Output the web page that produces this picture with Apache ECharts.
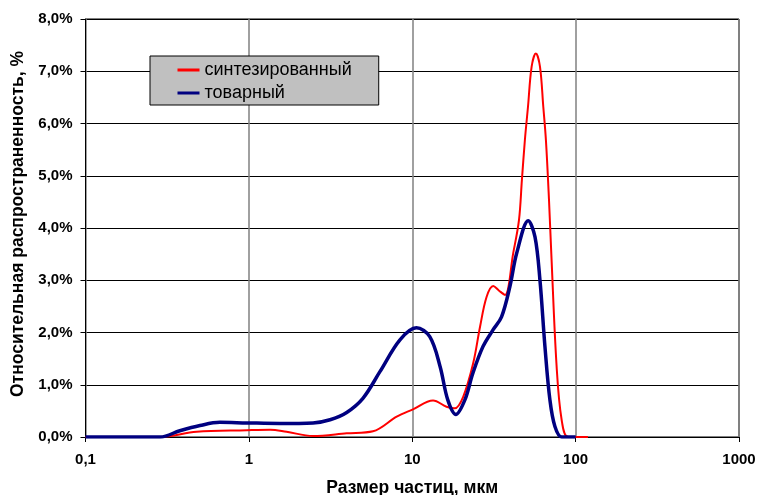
<!DOCTYPE html>
<html>
<head>
<meta charset="utf-8">
<script src="https://cdn.jsdelivr.net/npm/echarts@6/dist/echarts.min.js"></script>
<style>
html,body{margin:0;padding:0;background:#fff;}
#chart{width:757px;height:495px;}
</style>
</head>
<body>
<div id="chart"></div>
<script>
const seriesNames = ['синтезированный', 'товарный'];
const xTicks = [0.1, 1, 10, 100, 1000];

// синтезированный (red): particle size, µm / relative frequency, %
const redSize = [0.1, 0.286, 0.479, 0.97, 1.35, 1.70, 2.47, 3.97, 5.75, 8.03, 10.1, 13.4, 16.2, 18.2, 20.5, 23.6, 26.0, 28.5, 31.3, 34.0, 37.0, 41.5, 45.0, 46.9, 48.9, 51.1, 53.8, 57.1, 60.5, 63.4, 65.8, 68.7, 71.0, 76.5, 82.1, 90.1, 119];
const redVal  = [0,   0,     0.10,  0.13, 0.14, 0.10, 0.02, 0.07, 0.11, 0.39, 0.53, 0.70, 0.58, 0.55, 0.77, 1.41, 2.11, 2.68, 2.89, 2.80, 2.72, 3.52, 4.15, 4.92, 5.68, 6.32, 7.09, 7.34, 7.09, 6.32, 5.68, 4.54, 3.50, 1.35, 0.33, 0,    0];

// товарный (blue)
const blueSize = [0.1, 0.286, 0.378, 0.502, 0.665, 0.97, 1.55, 2.47, 3.14, 3.97, 4.99, 6.34, 8.41, 10.6, 12.8, 14.8, 16.5, 18.5, 21.0, 23.5, 27.1, 31.2, 35.2, 39.6, 43.6, 51.3, 56.4, 60.5, 64.9, 69.6, 74.7, 82.1, 100];
const blueVal  = [0,   0,     0.12,  0.22,  0.28,  0.27, 0.26, 0.27, 0.33, 0.47, 0.74, 1.25, 1.86, 2.09, 1.92, 1.35, 0.71, 0.43, 0.71, 1.22, 1.73, 2.05, 2.30, 2.88, 3.52, 4.14, 3.83, 3.00, 1.73, 0.71, 0.20, 0,    0];

const zip = (a, b) => a.map((v, i) => [v, b[i]]);
const font = 'Liberation Sans, Arial, sans-serif';

const chart = echarts.init(document.getElementById('chart'));
chart.setOption({
  backgroundColor: '#fff',
  animation: false,
  grid: { left: 85.5, right: 18, top: 19, bottom: 58, show: true, borderColor: '#000', borderWidth: 1,
    containLabel: false, outerBoundsMode: 'none' },
  legend: {
    left: 150, top: 56, orient: 'vertical',
    backgroundColor: '#c0c0c0', borderColor: '#000', borderWidth: 1,
    padding: [5, 27, 3, 27.5], itemGap: 5,
    icon: 'rect', itemWidth: 22, itemHeight: 3,
    textStyle: { fontFamily: font, fontSize: 18, color: '#000' },
    data: seriesNames
  },
  xAxis: {
    type: 'log', logBase: 10, min: 0.1, max: 1000,
    name: 'Размер частиц, мкм', nameLocation: 'middle', nameGap: 42,
    nameTextStyle: { fontFamily: font, fontSize: 17.5, fontWeight: 'bold', color: '#000' },
    axisLine: { lineStyle: { color: '#000', width: 1 } },
    axisTick: { show: true, length: 5, lineStyle: { color: '#000' } },
    minorTick: { show: false },
    axisLabel: { margin: 15, fontFamily: font, fontSize: 15, fontWeight: 'bold', color: '#000',
      formatter: v => String(v).replace('.', ',') },
    splitLine: { show: true, lineStyle: { color: '#808080', width: 1.5 } }
  },
  yAxis: {
    type: 'value', min: 0, max: 8, interval: 1,
    name: 'Относительная распространенность, %', nameLocation: 'middle', nameGap: 55,
    nameTextStyle: { fontFamily: font, fontSize: 17.5, fontWeight: 'bold', color: '#000', padding: [0, 0, 0, 8] },
    axisLine: { show: true, lineStyle: { color: '#000', width: 1 } },
    axisTick: { show: true, length: 5, lineStyle: { color: '#000' } },
    axisLabel: { margin: 13, fontFamily: font, fontSize: 15, fontWeight: 'bold', color: '#000',
      formatter: v => v.toFixed(1).replace('.', ',') + '%' },
    splitLine: { show: true, lineStyle: { color: '#000', width: 1 } }
  },
  series: [
    { name: seriesNames[0], type: 'line', data: zip(redSize, redVal), smooth: 0.35, showSymbol: false, symbol: 'none',
      itemStyle: { color: '#ff0000' }, lineStyle: { color: '#ff0000', width: 2 }, z: 3 },
    { name: seriesNames[1], type: 'line', data: zip(blueSize, blueVal), smooth: 0.35, showSymbol: false, symbol: 'none',
      itemStyle: { color: '#000080' }, lineStyle: { color: '#000080', width: 3.5 }, z: 4 }
  ]
});
</script>
</body>
</html>
